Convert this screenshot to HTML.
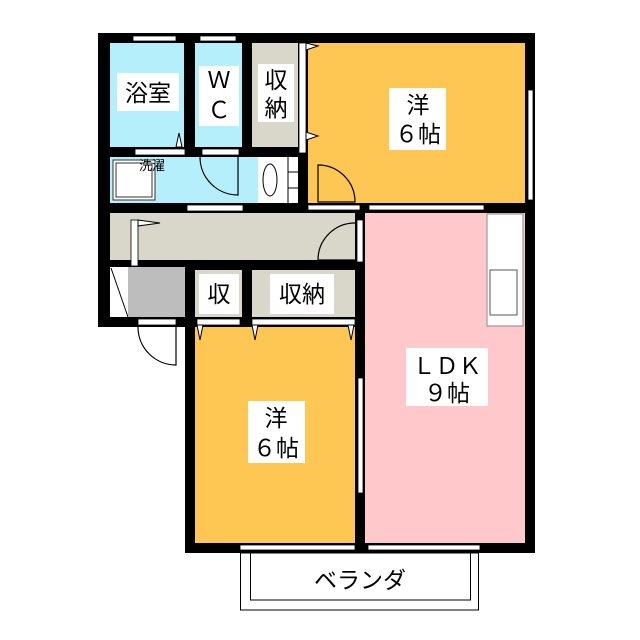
<!DOCTYPE html>
<html><head><meta charset="utf-8"><style>
html,body{margin:0;padding:0;background:#fff;width:640px;height:640px;overflow:hidden}
text{font-family:"Liberation Sans","Noto Sans CJK JP",sans-serif;fill:#000}
</style></head><body>
<svg width="640" height="640" viewBox="0 0 640 640" xmlns="http://www.w3.org/2000/svg">
<!-- walls -->
<rect x="98" y="33" width="437" height="180" fill="#000"/>
<rect x="98" y="200" width="97" height="127" fill="#000"/>
<rect x="185" y="200" width="350" height="353" fill="#000"/>
<!-- rooms -->
<rect x="110" y="43" width="74" height="104" fill="#b5effc"/>
<rect x="195" y="43" width="47" height="104" fill="#b5effc"/>
<rect x="252" y="43" width="46" height="104" fill="#d9d6ca"/>
<rect x="308" y="43" width="217" height="160" fill="#fec653"/>
<rect x="110" y="157" width="188" height="46" fill="#b5effc"/>
<rect x="110" y="213" width="245" height="47" fill="#d9d6ca"/>
<rect x="110" y="267" width="18" height="50" fill="#fff"/>
<line x1="111" y1="268" x2="128" y2="317" stroke="#000" stroke-width="1"/>
<rect x="128" y="267" width="57" height="50" fill="#bdbdbd"/>
<rect x="195" y="270" width="47" height="47" fill="#d9d6ca"/>
<rect x="252" y="270" width="103" height="47" fill="#d9d6ca"/>
<rect x="195" y="327" width="160" height="216" fill="#fec653"/>
<rect x="365" y="213" width="160" height="330" fill="#ffc9cc"/>
<!-- kitchen -->
<rect x="487" y="214" width="36" height="112" fill="#fff" stroke="#888" stroke-width="1"/>
<rect x="490" y="270" width="27" height="45" fill="#fff" stroke="#555" stroke-width="1"/>
<!-- washer & sink -->
<rect x="113" y="160" width="42" height="40" fill="#fff" stroke="#333" stroke-width="1"/>
<rect x="116" y="163" width="36" height="34" fill="#fff" stroke="#333" stroke-width="1"/>
<rect x="258" y="157" width="40" height="46" fill="#fff"/>
<ellipse cx="270" cy="180" rx="7" ry="16" fill="#fff" stroke="#000" stroke-width="1"/>
<line x1="288" y1="157" x2="288" y2="203" stroke="#000" stroke-width="1"/>
<line x1="288" y1="172" x2="298" y2="172" stroke="#000"/><line x1="288" y1="188" x2="298" y2="188" stroke="#000"/>
<!-- windows -->
<g fill="#fff" stroke="#000" stroke-width="0.8">
<rect x="133" y="36" width="43" height="5"/>
<rect x="200" y="36" width="36" height="5"/>
<rect x="528" y="90" width="5" height="110"/>
<rect x="308" y="205" width="52" height="5" />
<rect x="369" y="205" width="115" height="5"/>
<rect x="358" y="378" width="5" height="115"/>
<rect x="240" y="545" width="115" height="5"/>
<rect x="368" y="545" width="112" height="5"/>
<rect x="135" y="149" width="50" height="6"/>
<rect x="202" y="149" width="37" height="6"/>
<rect x="187" y="205" width="56" height="6"/>
<rect x="131" y="220" width="7" height="46"/>
<rect x="299" y="43" width="7" height="110"/>
<rect x="357" y="220" width="6" height="42"/>
<rect x="138" y="319" width="38" height="6"/>
<rect x="197" y="319" width="43" height="6"/>
<rect x="252" y="319" width="103" height="6"/>
</g>
<!-- door swings -->
<g fill="none" stroke="#000" stroke-width="1.2">
<path d="M200 157 A38 38 0 0 0 238 195 L238 157"/>
<path d="M318 165 A37 37 0 0 1 355 202 L318 202 Z"/>
<path d="M355 223 A37 37 0 0 0 318 260 L355 260"/>
<path d="M138 327 A38 38 0 0 0 176 365 L176 327"/>
</g>
<!-- small triangles -->
<g fill="#fff" stroke="#000" stroke-width="1">
<polygon points="306,43 318,46 306,50"/>
<polygon points="306,132 318,136 306,140"/>
<polygon points="138,220 160,223 138,226"/>
<polygon points="176,147 179,133 182,147"/>
<polygon points="197,325 200,340 203,325"/>
<polygon points="252,325 255,340 258,325"/>
<polygon points="348,325 351,340 354,325"/>
</g>
<!-- veranda -->
<rect x="240.5" y="553" width="238" height="57" fill="#fff" stroke="#000" stroke-width="1"/>
<rect x="250.5" y="553" width="220" height="47" fill="#fff" stroke="#000" stroke-width="1"/>
<!-- labels -->
<g fill="#fff">
<rect x="117" y="73" width="62" height="38"/>
<rect x="199" y="66" width="40" height="60"/>
<rect x="258" y="64" width="36" height="58"/>
<rect x="389" y="88" width="57" height="62"/>
<rect x="199" y="274" width="40" height="40"/>
<rect x="270" y="274" width="64" height="40"/>
<rect x="406" y="348" width="82" height="58"/>
<rect x="248" y="401" width="57" height="62"/>
</g>
<g font-size="23">
<text x="148" y="101" text-anchor="middle">浴室</text>
<text x="219" y="88" text-anchor="middle">Ｗ</text>
<text x="219" y="118" text-anchor="middle">Ｃ</text>
<text x="276" y="88" text-anchor="middle">収</text>
<text x="276" y="116" text-anchor="middle">納</text>
<text x="418" y="113" text-anchor="middle">洋</text>
<text x="418" y="142" text-anchor="middle">６帖</text>
<text x="219" y="302" text-anchor="middle">収</text>
<text x="302" y="302" text-anchor="middle">収納</text>
<text x="447" y="374" text-anchor="middle">ＬＤＫ</text>
<text x="447" y="401" text-anchor="middle">９帖</text>
<text x="276" y="426" text-anchor="middle">洋</text>
<text x="276" y="456" text-anchor="middle">６帖</text>
<text x="360" y="588" text-anchor="middle">ベランダ</text>
</g>
<text x="152" y="170" font-size="13" text-anchor="middle" fill="#333">洗濯</text>
</svg>
</body></html>
